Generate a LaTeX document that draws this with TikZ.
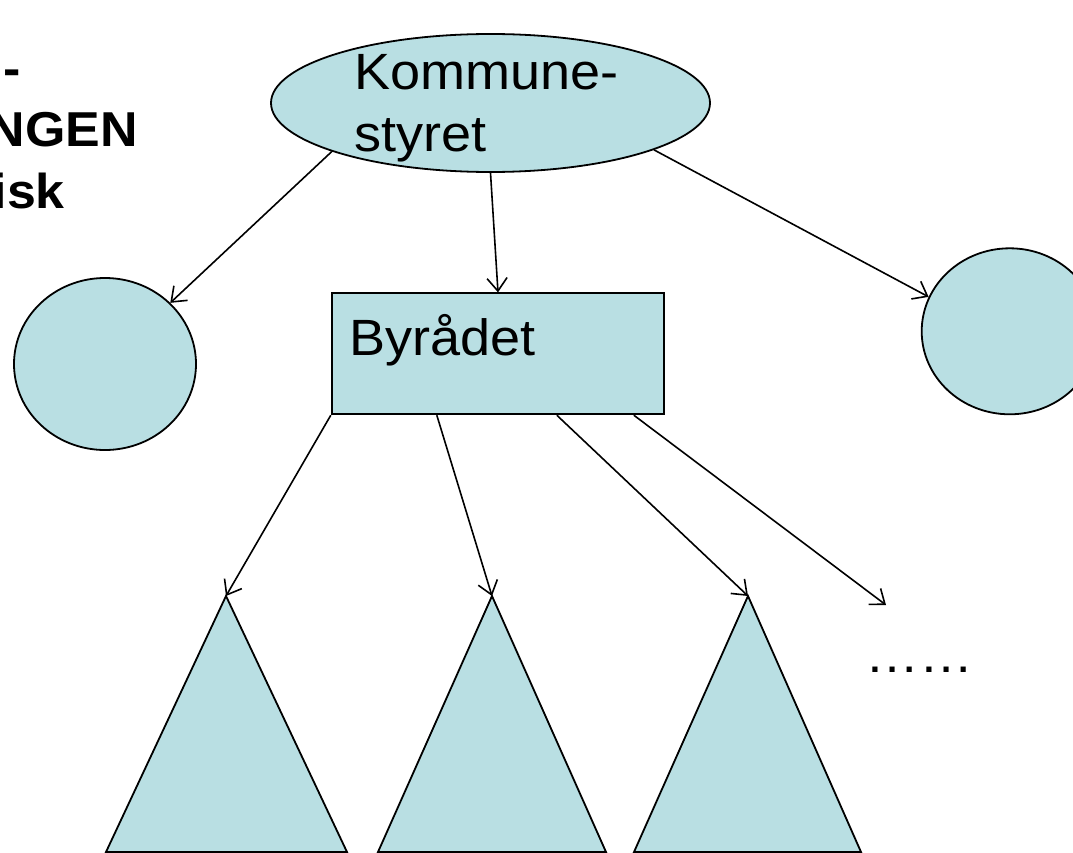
\documentclass[tikz,border=0pt]{standalone}
\usepackage{fontspec}
\setmainfont{Liberation Sans}[FakeStretch=1.06]
\usepackage{tikz}
\usetikzlibrary{arrows.meta,shapes.geometric}
\definecolor{paleteal}{RGB}{185,223,227}

\begin{document}
\begin{tikzpicture}[
  x=1pt, y=-1pt,
  >={Straight Barb[length=13pt,width=20pt]},
  every node/.style={inner sep=0pt},
  shp/.style={draw, fill=paleteal, line width=1.8pt},
  lbl/.style={font=\fontsize{51}{62}\selectfont, align=left},
  ttl/.style={font=\fontsize{49}{61}\selectfont\bfseries},
  conn/.style={->, line width=1.6pt}
]
\useasboundingbox (0,0) rectangle (1073,853);
\clip (0,0) rectangle (1073,853);

% title, cut off at the left edge of the slide
\node[ttl, anchor=base east] (ttlA) at (21,86)   {-};
\node[ttl, anchor=base east] (ttlB) at (138,147) {NGEN};
\node[ttl, anchor=base east] (ttlC) at (65,208)  {isk};

% top level and the two side bodies
\node[shp, ellipse, minimum width=439pt, minimum height=138pt] (kstyre) at (490.5,103) {};
\node[lbl, anchor=north west] (kstyreTxt) at (354,54) {Kommune-\\styret};
\node[shp, ellipse, minimum width=182pt, minimum height=172pt] (lcirc) at (105,364) {};
\node[shp, ellipse, minimum width=176pt, minimum height=166pt] (rcirc) at (1009.7,331.3) {};

% executive
\node[shp, rectangle, minimum width=332.6pt, minimum height=121pt] (byraad) at (498,353.8) {};
\node[lbl, anchor=base west] (byraadTxt) at (349,355) {Byrådet};

% departments (apex = where the arrows land)
\coordinate (triA) at (226,596);
\coordinate (triB) at (492,596);
\coordinate (triC) at (748,596);
\draw[shp] (triA) -- (106,852) -- (347,852) -- cycle;
\draw[shp] (triB) -- (378,852) -- (606,852) -- cycle;
\draw[shp] (triC) -- (634,852) -- (861,852) -- cycle;

\node[lbl, anchor=base west] (more) at (865,672) {……};
\coordinate (moreEnd) at (886,605);

% arrows
\draw[conn] (kstyre.197)   -- (lcirc);
\draw[conn] (kstyre.south) -- (byraad.north);
\draw[conn] (kstyre.344)   -- (rcirc.157);

\draw[conn] (byraad.south west)                -- (triA);
\draw[conn] ([xshift=106pt]byraad.south west) -- (triB);
\draw[conn] ([xshift=226pt]byraad.south west) -- (triC);
\draw[conn] ([xshift=303pt]byraad.south west) -- (moreEnd);

\end{tikzpicture}
\end{document}
